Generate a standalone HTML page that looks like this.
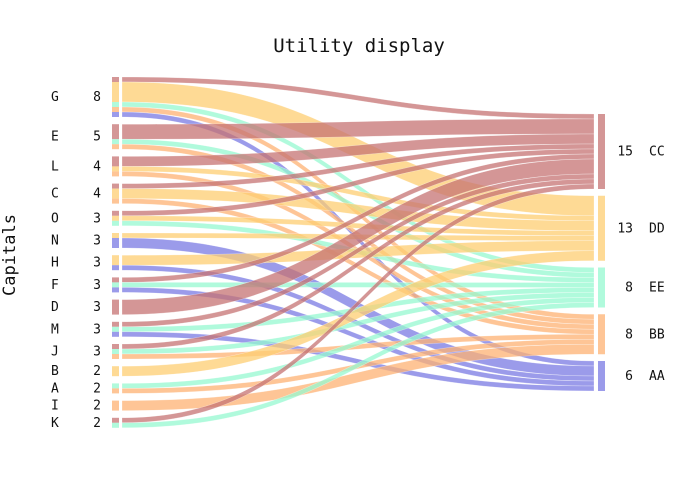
<!DOCTYPE html>
<html><head><meta charset="utf-8">
<style>
html,body{margin:0;padding:0;background:#fff;}
svg{display:block;}
text{font-family:"DejaVu Sans Mono","Liberation Mono",monospace;fill:#111;}
</style></head>
<body>
<svg id="chart" width="700" height="500" viewBox="0 0 700 500">
<text x="359" y="52" text-anchor="middle" font-size="19">Utility display</text>
<text transform="translate(15,255) rotate(-90)" text-anchor="middle" font-size="17">Capitals</text>
<g id="links"></g>
<g id="nodes"></g>
</svg>
<script>
const sourceNames = ["G","E","L","C","O","N","H","F","D","M","J","B","A","I","K"];
const targetNames = ["CC","DD","EE","BB","AA"];
const targetColors = ["rgba(198,115,115,0.75)","rgba(253,205,114,0.75)","rgba(150,248,208,0.75)","rgba(254,178,115,0.75)","rgba(121,121,227,0.75)"];
const flowSource = ["G","G","G","G","G","E","E","E","L","L","L","C","C","C","O","O","O","N","N","H","H","F","F","F","D","M","M","M","J","J","J","B","A","A","I","K","K"];
const flowTarget = ["CC","DD","EE","BB","AA","CC","EE","BB","CC","DD","BB","CC","DD","BB","CC","DD","EE","DD","AA","DD","AA","CC","EE","AA","CC","CC","EE","AA","CC","EE","BB","DD","EE","BB","BB","CC","EE"];
const flowValue = [1,4,1,1,1,3,1,1,2,1,1,1,2,1,1,1,1,1,2,2,1,1,1,1,3,1,1,1,1,1,1,2,1,1,2,1,1];

const NS="http://www.w3.org/2000/svg";
const unit=5, leftTop=77, leftGap=7.2, rightTop=114, rightGap=6.75;
const lx0=112, lx1=119, linkL=122, linkR=594, rx0=598, rx1=605;
const linksG=document.getElementById('links'), nodesG=document.getElementById('nodes');
function tIdx(t){return targetNames.indexOf(t);}
const sTot={}, tTot={};
sourceNames.forEach(s=>sTot[s]=0); targetNames.forEach(t=>tTot[t]=0);
flowValue.forEach((v,i)=>{sTot[flowSource[i]]+=v; tTot[flowTarget[i]]+=v;});
const sY={}, tY={};
let y=leftTop;
sourceNames.forEach(s=>{sY[s]=y; y+=sTot[s]*unit+leftGap;});
y=rightTop;
targetNames.forEach(t=>{tY[t]=y; y+=tTot[t]*unit+rightGap;});
const idx=flowValue.map((v,i)=>i);
const sOff={}, tOff={};
sourceNames.forEach(s=>sOff[s]=sY[s]); targetNames.forEach(t=>tOff[t]=tY[t]);
const lin=idx.slice().sort((a,b)=>sourceNames.indexOf(flowSource[a])-sourceNames.indexOf(flowSource[b])||tIdx(flowTarget[a])-tIdx(flowTarget[b]));
const pos={};
lin.forEach(i=>{pos[i]={sy:sOff[flowSource[i]]}; sOff[flowSource[i]]+=flowValue[i]*unit;});
const rin=idx.slice().sort((a,b)=>tIdx(flowTarget[a])-tIdx(flowTarget[b])||sourceNames.indexOf(flowSource[a])-sourceNames.indexOf(flowSource[b]));
rin.forEach(i=>{pos[i].ty=tOff[flowTarget[i]]; tOff[flowTarget[i]]+=flowValue[i]*unit;});
const mx=(linkL+linkR)/2;
idx.forEach(i=>{
  const h=flowValue[i]*unit, a=pos[i].sy, b=pos[i].ty;
  const p=document.createElementNS(NS,'path');
  p.setAttribute('d',`M${linkL},${a} C${mx},${a} ${mx},${b} ${linkR},${b} L${linkR},${b+h} C${mx},${b+h} ${mx},${a+h} ${linkL},${a+h} Z`);
  p.setAttribute('fill',targetColors[tIdx(flowTarget[i])]);
  p.setAttribute('stroke','rgba(255,255,255,0.5)');
  p.setAttribute('stroke-width','0.5');
  
  
  linksG.appendChild(p);
  const r=document.createElementNS(NS,'rect');
  r.setAttribute('x',lx0); r.setAttribute('y',a); r.setAttribute('width',lx1-lx0); r.setAttribute('height',h);
  r.setAttribute('fill',targetColors[tIdx(flowTarget[i])]);
  
  
  nodesG.appendChild(r);
});
function txt(x,yy,s,anchor,name){
  const t=document.createElementNS(NS,'text');
  t.setAttribute('x',x); t.setAttribute('y',yy); t.setAttribute('font-size','13');
  t.setAttribute('text-anchor',anchor); t.textContent=s;
  
  
  nodesG.appendChild(t);
}
sourceNames.forEach(s=>{
  const cy=sY[s]+sTot[s]*unit/2+4;
  txt(51,cy,s,'start','source-label');
  txt(101,cy,String(sTot[s]),'end','source-value');
});
targetNames.forEach((t,k)=>{
  const h=tTot[t]*unit;
  const r=document.createElementNS(NS,'rect');
  r.setAttribute('x',rx0); r.setAttribute('y',tY[t]); r.setAttribute('width',rx1-rx0); r.setAttribute('height',h);
  r.setAttribute('fill',targetColors[k]);
  
  
  nodesG.appendChild(r);
  const cy=tY[t]+h/2+4;
  txt(633,cy,String(tTot[t]),'end','target-value');
  txt(649,cy,t,'start','target-label');
});
</script>
</body></html>
